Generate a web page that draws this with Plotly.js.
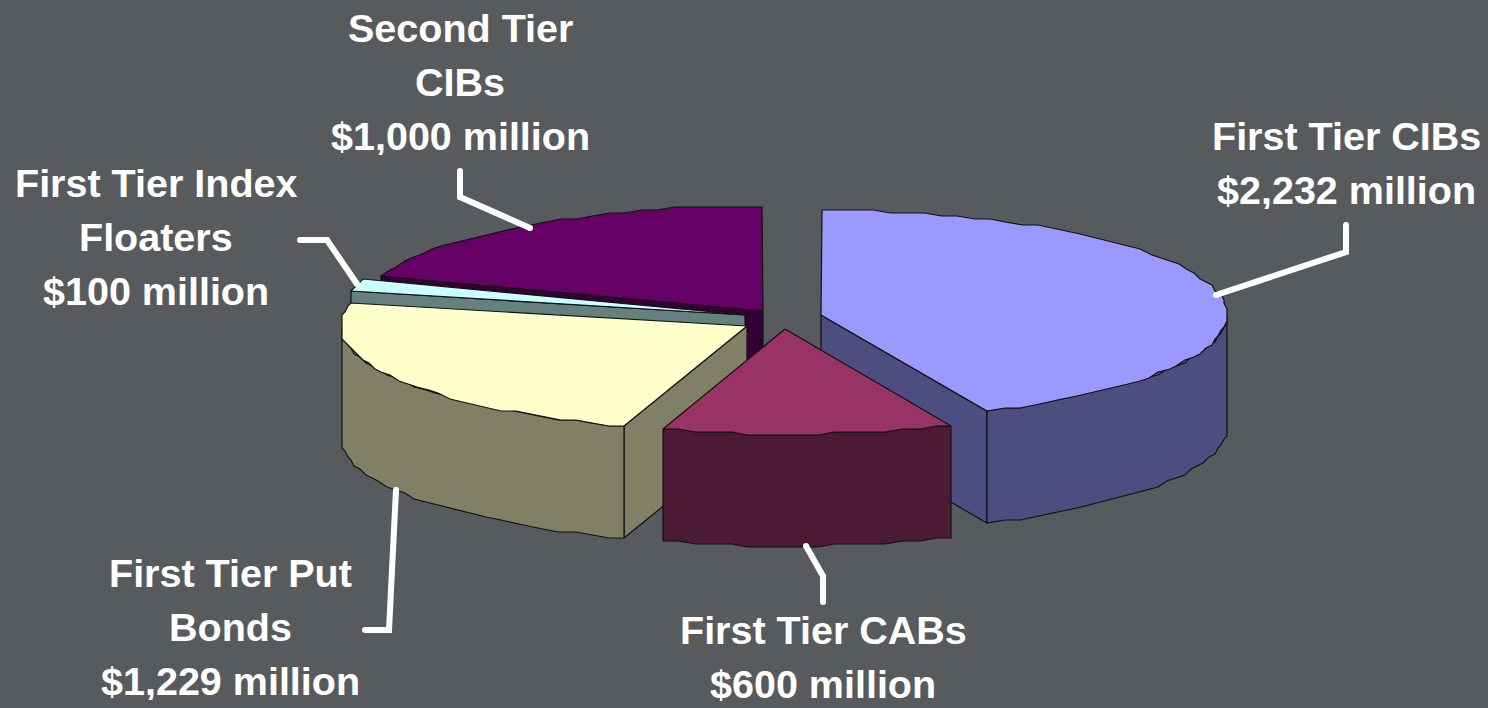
<!DOCTYPE html>
<html>
<head>
<meta charset="utf-8">
<script src="https://cdn.plot.ly/plotly-3.0.1.min.js"></script>
<style>html,body{margin:0;padding:0;background:#585B5E;overflow:hidden}#chart{width:1488px;height:708px}</style>
</head>
<body>
<div id="chart"></div>
<script>
// Municipal bond issue sizes, in millions of dollars
const categories = ["First Tier CIBs", "First Tier CABs", "First Tier Put Bonds", "First Tier Index Floaters", "Second Tier CIBs"];
const amounts = [2232, 600, 1229, 100, 1000];

// Label lines for each slice, in the same order as the amounts
const labelLines = [
  ["First Tier CIBs", "$2,232 million"],
  ["First Tier CABs", "$600 million"],
  ["First Tier Put", "Bonds", "$1,229 million"],
  ["First Tier Index", "Floaters", "$100 million"],
  ["Second Tier", "CIBs", "$1,000 million"]
];

// Fill colours per slice
const topColors = ["#9999FF", "#993366", "#FFFFCC", "#CCFFFF", "#660066"];
const sideColors = ["#4D4D80", "#4D1A33", "#808066", "#668080", "#330033"];

// Projection of the exploded disc
const sliceCentres = [[821, 315], [785, 329], [747, 326], [745, 315], [763, 311]];
const radiusX = 406, radiusY = 105, depth = 112;
const drawOrder = [4, 3, 2, 0, 1];

// Label anchors: centre x and the centre y of the first line
const labelAnchors = [[1346, 136], [823, 630], [230, 573], [156, 183], [460, 28]];
const lineStep = 54;

// Leader lines from each label to its slice
const leaders = [
  [[1346, 225], [1346, 252], [1216, 295]],
  [[806, 546], [823, 576], [823, 602]],
  [[396, 490], [389, 630], [365, 630]],
  [[300, 240], [327, 240], [357, 284]],
  [[460, 171], [460, 197], [530, 228]]
];

const rad = d => d * Math.PI / 180;
const total = amounts.reduce((a, b) => a + b, 0);
let running = 0;
const spans = amounts.map(v => { const s = running; running += v / total * 360; return [s, running]; });

// Rim points sit on a coarse grid, which gives the edge its faceted outline
const snap = v => Math.round(v / 3) * 3;
function rimPoint(i, deg) {
  const [cx, cy] = sliceCentres[i];
  return [snap(cx + radiusX * Math.sin(rad(deg))), snap(cy - radiusY * Math.cos(rad(deg)))];
}
function arc(i, a, b) {
  const pts = [];
  const n = Math.max(2, Math.ceil((b - a) / 2.5));
  for (let k = 0; k <= n; k++) pts.push(rimPoint(i, a + (b - a) * k / n));
  return pts;
}
function polygon(pts, fill, name) {
  const closed = pts.concat([pts[0]]);
  return {
    type: "scatter", mode: "lines", x: closed.map(p => p[0]), y: closed.map(p => p[1]),
    fill: "toself", fillcolor: fill, line: {color: "#111111", width: 1.2, shape: "linear"},
    name: name, text: name, hoverinfo: "text", showlegend: false
  };
}

const traces = [];
drawOrder.forEach(i => {
  const [a, b] = spans[i];
  const c = sliceCentres[i];
  const name = categories[i] + ": $" + amounts[i].toLocaleString("en-US") + " million";
  // Cut face turned towards the viewer
  const faceAngle = Math.sin(rad(b)) > 0 && b < 180 ? b : (Math.sin(rad(a)) < 0 ? a : null);
  if (faceAngle !== null) {
    const p = rimPoint(i, faceAngle);
    traces.push(polygon([c, p, [p[0], p[1] + depth], [c[0], c[1] + depth]], sideColors[i], name));
  }
  // Outer wall over the front half of the disc
  const fa = Math.max(a, 90), fb = Math.min(b, 270);
  if (fb > fa) {
    const front = arc(i, fa, fb);
    const lower = front.map(p => [p[0], p[1] + depth]).reverse();
    traces.push(polygon(front.concat(lower), sideColors[i], name));
  }
  // Top face
  traces.push(polygon([c].concat(arc(i, a, b)), topColors[i], name));
});

leaders.forEach(path => traces.push({
  type: "scatter", mode: "lines+markers",
  x: path.map(p => p[0]), y: path.map(p => p[1]),
  line: {color: "#FFFFFF", width: 6}, marker: {color: "#FFFFFF", size: 6},
  hoverinfo: "skip", showlegend: false
}));

const annotations = [];
labelLines.forEach((lines, i) => lines.forEach((text, k) => annotations.push({
  text: text, x: labelAnchors[i][0], y: labelAnchors[i][1] + k * lineStep,
  xref: "x", yref: "y", xanchor: "center", yanchor: "middle", showarrow: false,
  height: 38, borderpad: 0, valign: "middle",
  font: {family: "Liberation Sans, Arial, sans-serif", size: 39.5, color: "#FFFFFF", weight: 700}
})));

const hidden = {visible: false, fixedrange: true};
Plotly.newPlot("chart", traces, {
  width: 1488, height: 708,
  margin: {l: 0, r: 0, t: 0, b: 0},
  paper_bgcolor: "#585B5E", plot_bgcolor: "#585B5E",
  xaxis: Object.assign({range: [0, 1488]}, hidden),
  yaxis: Object.assign({range: [708, 0]}, hidden),
  annotations: annotations, showlegend: false
}, {displayModeBar: false});
</script>
</body>
</html>
